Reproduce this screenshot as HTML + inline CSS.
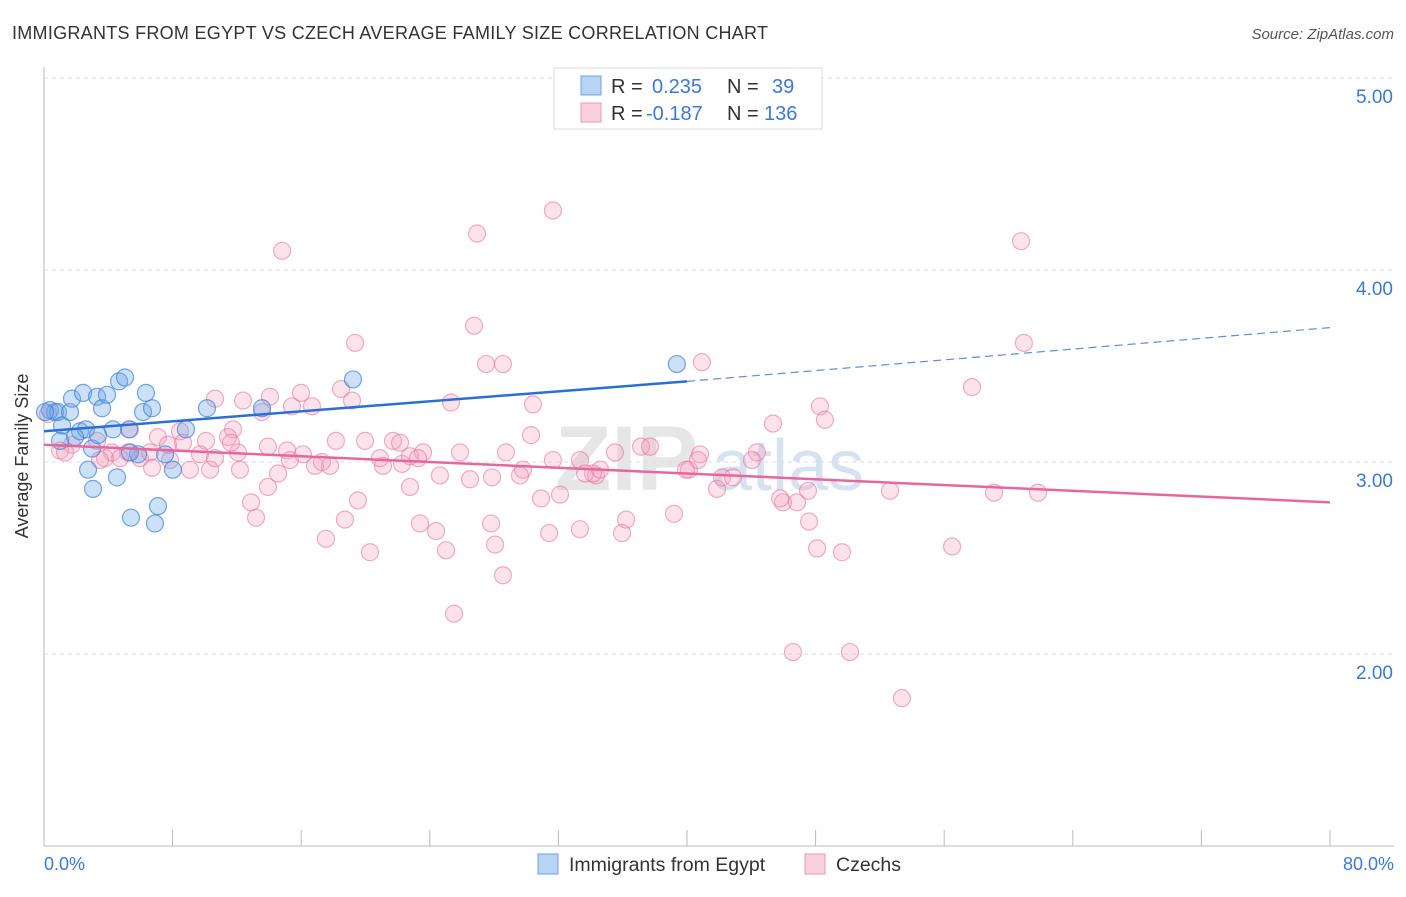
<!DOCTYPE html>
<html><head><meta charset="utf-8">
<style>
body{margin:0;background:#fff;font-family:"Liberation Sans",sans-serif;}
svg text{font-family:"Liberation Sans",sans-serif;}
</style></head>
<body>
<svg id="chart" width="1406" height="892" viewBox="0 0 1406 892" xmlns="http://www.w3.org/2000/svg">
<text x="12" y="39" font-size="18" fill="#333" textLength="756">IMMIGRANTS FROM EGYPT VS CZECH AVERAGE FAMILY SIZE CORRELATION CHART</text>
<text x="1394" y="39" font-size="15" fill="#555" font-style="italic" text-anchor="end">Source: ZipAtlas.com</text>
<g><text x="555" y="490" font-size="92" fill="#e6e6e6" font-family="Liberation Serif" font-weight="bold">ZIP</text><text x="712" y="490" font-size="72" fill="#d6e2f0">atlas</text></g>
<g id="grid"></g>
<g id="axes"></g>
<g id="marks"></g>
<text x="28" y="456" font-size="18" fill="#333" text-anchor="middle" transform="rotate(-90 28 456)">Average Family Size</text>
<text x="44" y="870" font-size="18" fill="#3b78d8">0.0%</text>
<text x="1394" y="870" font-size="18" fill="#3b78d8" text-anchor="end">80.0%</text>
<g>
<rect x="554" y="68" width="268" height="61" fill="#fff" stroke="#ddd"/>
<rect x="581" y="76" width="20" height="19" fill="#b7d3f5" stroke="#6fa3e6"/>
<rect x="581" y="103" width="20" height="19" fill="#fbd0dd" stroke="#ee9ab8"/>
<text x="611" y="93" font-size="20" fill="#333">R = </text><text x="652" y="93" font-size="20" fill="#3b78d8">0.235</text>
<text x="727" y="93" font-size="20" fill="#333">N = </text><text x="772" y="93" font-size="20" fill="#3b78d8">39</text>
<text x="611" y="120" font-size="20" fill="#333">R = </text><text x="646" y="120" font-size="20" fill="#3b78d8">-0.187</text>
<text x="727" y="120" font-size="20" fill="#333">N = </text><text x="764" y="120" font-size="20" fill="#3b78d8">136</text>
</g>
<g>
<rect x="538" y="854" width="20" height="20" fill="#b7d3f5" stroke="#6fa3e6"/>
<text x="569" y="871" font-size="19.5" fill="#333">Immigrants from Egypt</text>
<rect x="805" y="854" width="20" height="20" fill="#fbd0dd" stroke="#ee9ab8"/>
<text x="836" y="871" font-size="19.5" fill="#333">Czechs</text>
</g>
</svg>
<script>
const yTicks=[2,3,4,5];
const yTickLabels=["2.00","3.00","4.00","5.00"];
const blueX=[0.37,0.68,0.87,1.12,1.62,1.74,2.24,2.43,2.61,2.99,2.74,3.05,3.30,3.61,3.92,4.29,4.54,4.67,5.04,5.29,5.41,5.85,6.16,6.34,6.72,6.90,7.09,8.02,8.83,10.14,13.56,19.22,39.37,3.36,1.93,1.00,5.35,7.53,0.06];
const blueY=[3.27,3.26,3.26,3.19,3.26,3.33,3.16,3.36,3.17,3.07,2.96,2.86,3.34,3.28,3.35,3.17,2.92,3.42,3.44,3.17,2.71,3.04,3.26,3.36,3.28,2.68,2.77,2.96,3.17,3.28,3.28,3.43,3.51,3.14,3.13,3.11,3.05,3.04,3.26];
const pinkX=[14.81,26.94,31.66,60.78,26.75,19.35,60.96,40.93,27.50,28.55,18.48,57.73,15.99,10.64,12.38,14.06,15.43,19.16,25.32,30.42,48.27,13.56,45.35,48.58,11.76,11.45,8.46,7.09,10.08,8.65,13.93,18.16,19.97,21.71,22.15,30.30,37.14,15.12,16.11,12.07,25.88,23.58,28.74,44.35,40.81,1.74,1.00,3.30,1.31,4.23,5.23,5.97,4.73,3.79,6.59,7.84,9.70,9.08,10.33,10.64,17.79,16.86,17.29,21.09,22.27,20.90,22.77,23.27,31.66,33.34,34.34,34.15,33.66,29.80,27.87,24.63,22.77,13.93,14.56,19.53,12.88,13.19,18.72,23.39,24.39,27.81,30.92,32.10,33.34,31.42,36.21,35.96,39.19,40.12,41.87,42.18,42.86,44.04,47.53,45.97,46.84,47.59,48.09,49.64,52.63,59.10,61.84,56.49,17.54,20.28,25.01,28.06,28.55,25.51,46.59,50.14,53.37,37.70,40.68,5.35,0.25,3.48,6.72,11.63,15.30,26.50,35.52,39.94,45.79,34.59,29.61,16.67,7.71,12.19];
const pinkY=[4.10,4.19,4.31,4.15,3.71,3.62,3.62,3.52,3.51,3.51,3.38,3.39,3.36,3.33,3.32,3.34,3.29,3.32,3.31,3.30,3.29,3.26,3.20,3.22,3.17,3.13,3.16,3.13,3.11,3.10,3.08,3.11,3.11,3.11,3.10,3.14,3.08,3.06,3.04,3.05,3.05,3.05,3.05,3.05,3.04,3.09,3.06,3.11,3.05,3.05,3.05,3.02,3.02,3.02,3.05,3.01,3.04,2.96,2.96,3.02,2.98,2.98,3.00,2.98,2.99,3.02,3.03,3.02,3.01,3.01,2.93,2.94,2.94,2.96,2.92,2.93,2.87,2.87,2.94,2.80,2.79,2.71,2.70,2.68,2.64,2.68,2.81,2.83,2.65,2.63,2.70,2.63,2.73,2.96,2.86,2.92,2.92,3.01,2.85,2.79,2.79,2.69,2.55,2.53,2.85,2.84,2.84,2.56,2.60,2.53,2.54,2.57,2.41,2.21,2.01,2.01,1.77,3.08,3.01,3.17,3.25,3.01,2.97,3.10,3.01,2.91,3.05,2.96,2.81,2.96,2.93,3.29,3.09,2.96];
const blueTrend=[3.16,3.42,3.70]; // at x=0, 40, 80
const pinkTrend=[3.09,2.79];      // at x=0, 80

const NS="http://www.w3.org/2000/svg";
const xS=v=>44+v*(1286/80);
const yS=v=>846-(v-1)*192;
function mk(tag,attrs,parent){const e=document.createElementNS(NS,tag);for(const k in attrs)e.setAttribute(k,attrs[k]);parent.appendChild(e);return e;}
const grid=document.getElementById('grid'),axes=document.getElementById('axes'),marks=document.getElementById('marks');
yTicks.forEach((t,i)=>{
  const l=mk('line',{x1:44,x2:1394,y1:yS(t),y2:yS(t),stroke:'#ddd','stroke-dasharray':'4,4'},grid);
  
  
  const tx=mk('text',{x:1393,y:yS(t)+25,'font-size':19,fill:'#3b78d8','text-anchor':'end'},grid);
  tx.textContent=yTickLabels[i];
  
  
});
const ax=mk('line',{x1:44,x2:1394,y1:846,y2:846,stroke:'#bbb'},axes);


const ay=mk('line',{x1:44,x2:44,y1:67,y2:846,stroke:'#bbb'},axes);


for(let i=0;i<=10;i++){
  const t=mk('line',{x1:xS(i*8),x2:xS(i*8),y1:830,y2:846,stroke:'#bbb'},axes);
  
  
}
pinkX.forEach((x,i)=>{
  const c=mk('circle',{cx:xS(x),cy:yS(pinkY[i]),r:8.5,fill:'rgba(244,160,190,0.3)',stroke:'rgba(232,120,160,0.6)','stroke-width':1.2},marks);
  
  
});
blueX.forEach((x,i)=>{
  const c=mk('circle',{cx:xS(x),cy:yS(blueY[i]),r:8.5,fill:'rgba(110,165,230,0.35)',stroke:'rgba(60,130,220,0.7)','stroke-width':1.2},marks);
  
  
});
const bl=mk('line',{x1:xS(0),y1:yS(blueTrend[0]),x2:xS(40),y2:yS(blueTrend[1]),stroke:'#2a6fd6','stroke-width':2.5},marks);


const bd=mk('line',{x1:xS(40),y1:yS(blueTrend[1]),x2:xS(80),y2:yS(blueTrend[2]),stroke:'#5b8fd8','stroke-width':1.2,'stroke-dasharray':'8,5'},marks);


const pl=mk('line',{x1:xS(0),y1:yS(pinkTrend[0]),x2:xS(80),y2:yS(pinkTrend[1]),stroke:'#e8679a','stroke-width':2.5},marks);


</script>
</body></html>
